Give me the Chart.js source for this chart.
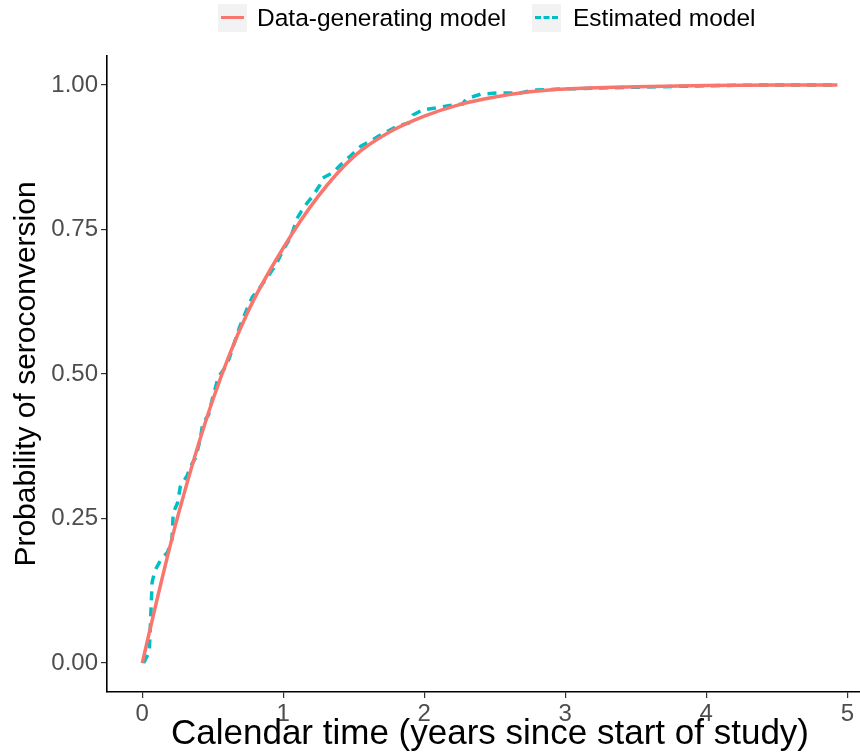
<!DOCTYPE html>
<html>
<head>
<meta charset="utf-8">
<script src="https://cdn.jsdelivr.net/npm/chart.js@4/dist/chart.umd.min.js"></script>
<style>
  html, body { margin: 0; padding: 0; background: #fff; }
  #wrap { position: relative; width: 860px; height: 755px; }
  #legend { position: absolute; top: 0; left: 0; width: 860px; height: 40px; font-family: "Liberation Sans", Arial, sans-serif; font-size: 24.5px; color: #000; }
  .key { position: absolute; top: 4px; width: 29px; height: 28px; background: #f2f2f2; }
  .key span { position: absolute; left: 3px; right: 3px; top: 12px; height: 0; }
  .lab { position: absolute; top: 4px; line-height: 28px; white-space: nowrap; }
</style>
</head>
<body>
<div id="wrap">
  <canvas id="chart" width="860" height="755"></canvas>
  <div id="legend">
    <div class="key" style="left:218px"><span style="border-top:3.5px solid #F8766D"></span></div>
    <div class="lab" style="left:257px">Data-generating model</div>
    <div class="key" style="left:532px"><span style="border-top:3.5px dashed #00BFC4"></span></div>
    <div class="lab" style="left:573px">Estimated model</div>
  </div>
</div>
<script>
// valeurs
const trueX = [0, 0.1, 0.25, 0.5, 0.75, 1, 1.25, 1.5, 1.75, 2, 2.25, 2.5, 2.75, 3, 3.5, 4, 4.5, 4.93];
const trueY = [0, 0.105, 0.252, 0.455, 0.608, 0.718, 0.808, 0.876, 0.918, 0.946, 0.966, 0.979, 0.988, 0.993, 0.997, 0.999, 1.0, 1.0];

const estX = [0.01, 0.05, 0.07, 0.09, 0.13, 0.18, 0.21, 0.22, 0.25, 0.27,
  0.32, 0.34, 0.38, 0.41, 0.43, 0.47, 0.5, 0.54, 0.59, 0.62,
  0.66, 0.69, 0.74, 0.78, 0.82, 0.89, 0.95, 1.0, 1.05, 1.1,
  1.13, 1.17, 1.21, 1.26, 1.28, 1.35, 1.4, 1.48, 1.55, 1.62,
  1.68, 1.74, 1.81, 1.89, 1.92, 1.99, 2.08, 2.17, 2.27, 2.3,
  2.4, 2.52, 2.68, 2.77, 2.99, 3.3, 3.7, 4.1, 4.5, 4.93];
const estY = [0.0, 0.02, 0.14, 0.16, 0.178, 0.192, 0.213, 0.26, 0.277, 0.305,
  0.325, 0.339, 0.356, 0.386, 0.415, 0.429, 0.46, 0.495, 0.512, 0.529,
  0.559, 0.581, 0.611, 0.633, 0.645, 0.668, 0.69, 0.715, 0.735, 0.77,
  0.782, 0.796, 0.808, 0.827, 0.839, 0.848, 0.86, 0.878, 0.894, 0.903,
  0.912, 0.92, 0.929, 0.934, 0.948, 0.957, 0.96, 0.964, 0.967, 0.976,
  0.984, 0.986, 0.986, 0.991, 0.993, 0.995, 0.997, 0.999, 1.0, 1.0];

const xTicks = [0, 1, 2, 3, 4, 5];
const yTicks = [0, 0.25, 0.5, 0.75, 1];
const xTitle = "Calendar time (years since start of study)";

const FONT = "'Liberation Sans', Arial, sans-serif";

const toPts = (xs, ys) => xs.map((x, i) => ({ x, y: ys[i] }));

// titre de l'axe x centré sur tout le panneau (qui dépasse le canvas à droite)
const xTitlePlugin = {
  id: "xTitle",
  afterDraw(chart) {
    const ctx = chart.ctx;
    ctx.save();
    ctx.font = "35px " + FONT;
    ctx.fillStyle = "#000";
    ctx.textAlign = "center";
    ctx.textBaseline = "middle";
    ctx.fillText(xTitle, 490, 734);
    ctx.restore();
  }
};

new Chart(document.getElementById("chart"), {
  type: "line",
  data: {
    datasets: [
      {
        label: "Data-generating model",
        data: toPts(trueX, trueY),
        borderColor: "#F8766D",
        borderWidth: 3.5,
        pointRadius: 0,
        cubicInterpolationMode: "monotone",
        order: 1
      },
      {
        label: "Estimated model",
        data: toPts(estX, estY),
        borderColor: "#00BFC4",
        borderWidth: 3.5,
        borderDash: [9, 7],
        pointRadius: 0,
        tension: 0,
        order: 2
      }
    ]
  },
  options: {
    responsive: false,
    animation: false,
    layout: { padding: { top: 56, right: 0, bottom: 0, left: 0 } },
    plugins: { legend: { display: false }, tooltip: { enabled: false } },
    scales: {
      x: {
        type: "linear",
        min: -0.25,
        max: 5.09,
        afterBuildTicks: s => { s.ticks = xTicks.map(v => ({ value: v })); },
        afterFit: s => { s.height = 63; },
        grid: { drawOnChartArea: false, drawTicks: true, tickLength: 6, color: "#333333", lineWidth: 1.2 },
        border: { display: true, color: "#000000", width: 1.6 },
        ticks: { color: "#4D4D4D", font: { family: FONT, size: 24 }, padding: 2, maxRotation: 0 },
        title: { display: false }
      },
      y: {
        type: "linear",
        min: -0.05,
        max: 1.05,
        afterBuildTicks: s => { s.ticks = yTicks.map(v => ({ value: v })); },
        afterFit: s => { s.width = 107; },
        grid: { drawOnChartArea: false, drawTicks: true, tickLength: 6, color: "#333333", lineWidth: 1.2 },
        border: { display: true, color: "#000000", width: 1.6 },
        ticks: { color: "#4D4D4D", font: { family: FONT, size: 24 }, padding: 3, callback: v => v.toFixed(2) },
        title: { display: true, text: "Probability of seroconversion", color: "#000", font: { family: FONT, size: 30 }, padding: { top: 9, bottom: 0 } }
      }
    }
  },
  plugins: [xTitlePlugin]
});
</script>
</body>
</html>
